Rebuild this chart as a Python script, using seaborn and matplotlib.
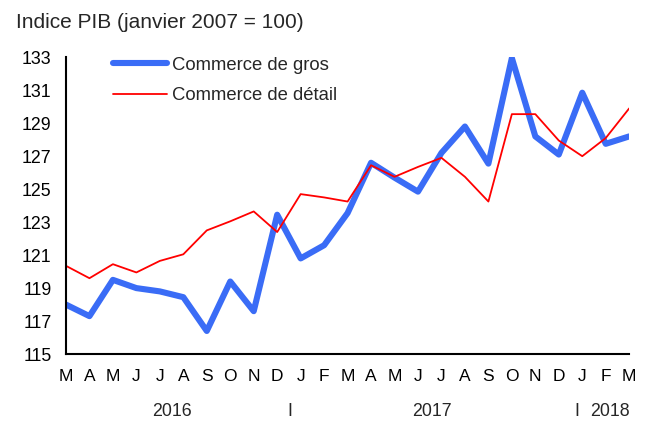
import numpy as np
import pandas as pd
import matplotlib
matplotlib.use('Agg')
import matplotlib.pyplot as plt
import matplotlib.transforms as mtransforms
import seaborn as sns

sns.set_style('white')
plt.rcParams['font.family'] = ['Liberation Sans', 'DejaVu Sans']

# monthly index values, March 2016 .. March 2018
months = ['M', 'A', 'M', 'J', 'J', 'A', 'S', 'O', 'N', 'D', 'J', 'F',
          'M', 'A', 'M', 'J', 'J', 'A', 'S', 'O', 'N', 'D', 'J', 'F', 'M']
gros = [118.0, 117.3, 119.5, 119.0, 118.8, 118.45, 116.4, 119.4, 117.6, 123.45,
        120.8, 121.6, 123.55, 126.6, 125.7, 124.85, 127.2, 128.8, 126.55, 132.95,
        128.2, 127.1, 130.85, 127.75, 128.2]
detail = [120.35, 119.6, 120.45, 119.95, 120.65, 121.05, 122.5, 123.05, 123.65, 122.4,
          124.7, 124.5, 124.25, 126.45, 125.75, 126.35, 126.9, 125.75, 124.25, 129.55,
          129.55, 127.95, 127.0, 128.1, 129.9]
years = ['2016', 'I', '2017', 'I', '2018']
year_pos = [4.5, 9.55, 15.6, 21.75, 23.2]

df = pd.DataFrame({'mois': np.arange(len(months)), 'gros': gros, 'detail': detail})

fig = plt.figure(figsize=(6.5, 4.21), dpi=100)
ax = fig.add_axes([0.1015, 0.159, 0.8665, 0.705])

sns.lineplot(data=df, x='mois', y='gros', ax=ax, color='#3a6cf6', linewidth=4.4,
             label='Commerce de gros')
sns.lineplot(data=df, x='mois', y='detail', ax=ax, color='#ff0000', linewidth=1.3,
             label='Commerce de détail')

ax.set_xlim(0, 24)
ax.set_ylim(115, 133)
ax.set_yticks(np.arange(115, 134, 2))
ax.set_xticks(df['mois'])
ax.set_xticklabels(months)
ax.set_xlabel('')
ax.set_ylabel('')

for s in ['top', 'right']:
    ax.spines[s].set_visible(False)
for s in ['left', 'bottom']:
    ax.spines[s].set_color('black')
    ax.spines[s].set_linewidth(1.5)

ax.tick_params(axis='x', direction='in', length=5, width=1.2, pad=11, labelsize=12.5, colors='black')
ax.tick_params(axis='y', direction='in', length=5, width=1.2, pad=10.5, labelsize=12.8, colors='black')

trans = mtransforms.blended_transform_factory(ax.transData, fig.transFigure)
for lab, pos in zip(years, year_pos):
    ax.text(pos, 1 - 412 / 421, lab, transform=trans, ha='center', va='center', fontsize=12.8)

fig.text(16 / 650, 1 - 22 / 421, 'Indice PIB (janvier 2007 = 100)', ha='left', va='center', fontsize=15)

ax.legend(loc='upper left', bbox_to_anchor=(0.0707, 1.027), frameon=False, fontsize=13.3,
          handlelength=2.9, handletextpad=0.28, labelspacing=0.75, borderaxespad=0)

fig.savefig('out.png', dpi=100)
